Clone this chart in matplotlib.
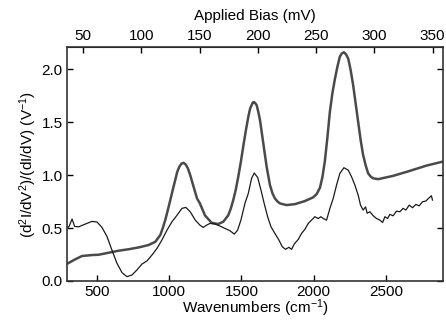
import numpy as np
import matplotlib
matplotlib.use("Agg")
import matplotlib.pyplot as plt

plt.rcParams['font.family'] = ['Liberation Sans', 'DejaVu Sans']
plt.rcParams['mathtext.fontset'] = 'custom'
plt.rcParams['mathtext.rm'] = 'Liberation Sans'
plt.rcParams['mathtext.it'] = 'Liberation Sans:italic'
plt.rcParams['font.size'] = 11

# smooth curve (thick)
wn_a = [299, 349, 396, 465, 511, 580, 650, 719, 788, 857, 903, 938, 955, 972,
        990, 1007, 1024, 1041, 1055, 1069, 1084, 1099, 1114, 1129, 1145, 1162,
        1177, 1192, 1212, 1247, 1293, 1339, 1374, 1408, 1425, 1443, 1460, 1477,
        1495, 1512, 1530, 1547, 1560, 1570, 1578, 1586, 1595, 1605, 1616, 1628,
        1651, 1674, 1697, 1714, 1731, 1750, 1766, 1812, 1870, 1939, 1996, 2020,
        2043, 2060, 2077, 2095, 2112, 2130, 2147, 2165, 2181, 2195, 2209, 2224,
        2239, 2256, 2273, 2290, 2308, 2325, 2342, 2360, 2377, 2395, 2412, 2446,
        2550, 2665, 2781, 2901]
val_a = [0.167, 0.205, 0.236, 0.245, 0.248, 0.267, 0.286, 0.300, 0.317, 0.340,
         0.370, 0.434, 0.500, 0.575, 0.670, 0.764, 0.860, 0.953, 1.030, 1.078,
         1.108, 1.116, 1.100, 1.063, 1.000, 0.920, 0.850, 0.780, 0.733, 0.620,
         0.550, 0.538, 0.560, 0.620, 0.680, 0.764, 0.860, 0.980, 1.120, 1.270,
         1.420, 1.550, 1.630, 1.660, 1.685, 1.690, 1.680, 1.660, 1.600, 1.520,
         1.300, 1.080, 0.906, 0.830, 0.780, 0.750, 0.733, 0.717, 0.726, 0.755,
         0.790, 0.820, 0.880, 0.980, 1.130, 1.360, 1.600, 1.780, 1.910, 2.030,
         2.120, 2.150, 2.160, 2.140, 2.100, 1.990, 1.850, 1.680, 1.500, 1.330,
         1.190, 1.090, 1.016, 0.985, 0.970, 0.962, 0.993, 1.040, 1.090, 1.130]

# noisy curve (thin)
wn_b = [299, 308, 327, 345, 373, 419, 465, 500, 534, 569, 603, 638, 673, 707,
        742, 776, 811, 846, 880, 915, 949, 984, 1019, 1053, 1088, 1115, 1145,
        1180, 1212, 1235, 1259, 1282, 1316, 1351, 1385, 1420, 1450, 1473, 1496,
        1524, 1547, 1570, 1588, 1612, 1635, 1657, 1681, 1704, 1731, 1759, 1782,
        1805, 1828, 1847, 1865, 1893, 1916, 1939, 1962, 1985, 2008, 2031, 2050,
        2066, 2089, 2112, 2135, 2158, 2181, 2209, 2239, 2262, 2285, 2308, 2324,
        2342, 2359, 2370, 2389, 2412, 2435, 2458, 2477, 2493, 2511, 2527, 2550,
        2573, 2596, 2619, 2638, 2661, 2684, 2707, 2730, 2753, 2776, 2799, 2815,
        2822]
val_b = [0.506, 0.520, 0.585, 0.515, 0.512, 0.538, 0.563, 0.557, 0.506, 0.420,
         0.292, 0.167, 0.079, 0.041, 0.057, 0.104, 0.160, 0.190, 0.245, 0.308,
         0.387, 0.480, 0.560, 0.620, 0.686, 0.695, 0.654, 0.575, 0.528, 0.506,
         0.528, 0.544, 0.538, 0.519, 0.497, 0.475, 0.443, 0.480, 0.575, 0.733,
         0.827, 0.969, 1.020, 0.978, 0.858, 0.733, 0.607, 0.512, 0.450, 0.387,
         0.324, 0.299, 0.318, 0.299, 0.349, 0.393, 0.450, 0.488, 0.544, 0.575,
         0.607, 0.590, 0.607, 0.590, 0.575, 0.686, 0.780, 0.906, 1.016, 1.070,
         1.047, 0.984, 0.906, 0.810, 0.717, 0.670, 0.700, 0.640, 0.654, 0.616,
         0.590, 0.575, 0.553, 0.607, 0.590, 0.629, 0.616, 0.660, 0.654, 0.686,
         0.670, 0.717, 0.692, 0.723, 0.710, 0.748, 0.755, 0.786, 0.805, 0.764]

bottom_ticks = [500, 1000, 1500, 2000, 2500]
top_ticks = [50, 100, 150, 200, 250, 300, 350]
y_ticks = [0.0, 0.5, 1.0, 1.5, 2.0]

CM_PER_MV = 8.0655

def cm2mv(x):
    return np.asarray(x) / CM_PER_MV

def mv2cm(x):
    return np.asarray(x) * CM_PER_MV

fig = plt.figure(figsize=(4.46, 3.2), dpi=100)
ax = fig.add_subplot(111)
fig.subplots_adjust(left=67/446, right=443/446, bottom=1-281/320, top=1-47/320)

ax.plot(wn_a, val_a, color='#4a4a4a', lw=1.8)
ax.plot(wn_b, val_b, color='#1a1a1a', lw=0.9)

ax.set_xlim(292, 2895)
ax.set_ylim(0, 2.21)
ax.set_xticks(bottom_ticks)
ax.set_yticks(y_ticks)
ax.set_yticklabels(['%.1f' % v for v in y_ticks])
ax.tick_params(direction='in', length=4, width=1, right=True, top=False, pad=3)
for s in ax.spines.values():
    s.set_linewidth(1.2)
    s.set_color('#333333')

ax.set_xlabel('Wavenumbers (cm$^{-1}$)', labelpad=-1)
ax.set_ylabel('(d$^2$I/dV$^2$)/(dI/dV) (V$^{-1}$)', labelpad=2)

top = ax.secondary_xaxis('top', functions=(cm2mv, mv2cm))
top.set_xticks(top_ticks)
top.tick_params(direction='in', length=4, width=1, pad=3)
top.set_xlabel('Applied Bias (mV)', labelpad=6)

plt.savefig('out.png', dpi=100)
